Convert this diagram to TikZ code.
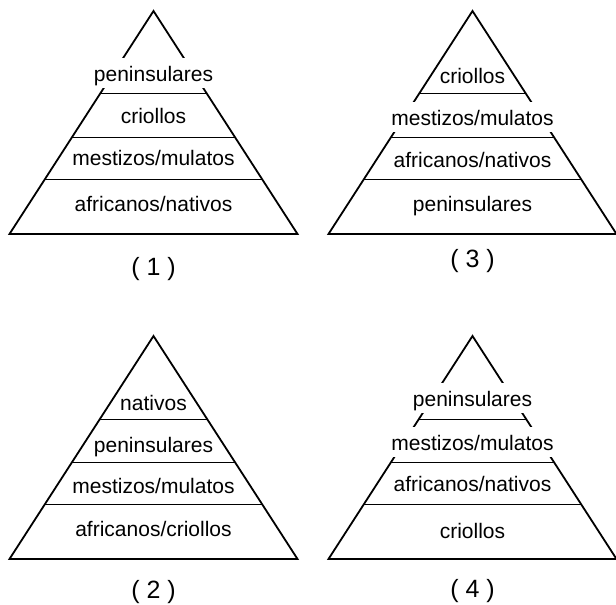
\documentclass[tikz,border=0pt]{standalone}
\usepackage{fontspec}
\setmainfont{Liberation Sans}
\usetikzlibrary{calc,positioning}

\begin{document}
\begin{tikzpicture}[x=1pt,y=-1pt,
	side/.style={line width=1.8pt},
	band/.style={line width=1pt},
	tier/.style={font=\fontsize{21}{21}\selectfont,anchor=base,inner sep=0pt},
	tiercut/.style={tier,fill=white,text height=23pt,text depth=7pt,inner xsep=1pt},
	num/.style={font=\fontsize{25}{25}\selectfont,anchor=base}]
	\useasboundingbox (0,0) rectangle (616,605);

	% outlines and tier lines
	\foreach \n/\x/\y in {1/153.5/11, 3/472.5/11, 2/153.5/336, 4/472.5/336} {
		\coordinate (A\n) at (\x,\y);
		\coordinate (L\n) at (\x-144,\y+223);
		\coordinate (R\n) at (\x+144,\y+223);
		\draw[side] (L\n) -- (A\n) -- (R\n) -- cycle;
		\foreach \h in {83,126,168}
			\draw[band] ($(A\n)!\h/223!(L\n)$) -- ($(A\n)!\h/223!(R\n)$);
	}

	% (1)
	\node[tiercut] (pen1) at ($(A1)+(0,70)$) {peninsulares};
	\node[tier] (cri1) at ($(A1)+(0,112)$) {criollos};
	\node[tier] (mes1) at ($(A1)+(0,154)$) {mestizos/mulatos};
	\node[tier] (afr1) at ($(A1)+(0,200)$) {africanos/nativos};
	\node[num] (num1) at ($(A1)+(0,264)$) {( 1 )};

	% (3)
	\node[tier] (cri3) at ($(A3)+(0,72)$) {criollos};
	\node[tiercut] (mes3) at ($(A3)+(0,114)$) {mestizos/mulatos};
	\node[tier] (afr3) at ($(A3)+(0,156)$) {africanos/nativos};
	\node[tier] (pen3) at ($(A3)+(0,200)$) {peninsulares};
	\node[num] (num3) at ($(A3)+(0,256)$) {( 3 )};

	% (2)
	\node[tier] (nat2) at ($(A2)+(0,74)$) {nativos};
	\node[tier] (pen2) at ($(A2)+(0,116)$) {peninsulares};
	\node[tier] (mes2) at ($(A2)+(0,157)$) {mestizos/mulatos};
	\node[tier] (afr2) at ($(A2)+(0,200)$) {africanos/criollos};
	\node[num] (num2) at ($(A2)+(0,262)$) {( 2 )};

	% (4)
	\node[tiercut] (pen4) at ($(A4)+(0,70)$) {peninsulares};
	\node[tiercut] (mes4) at ($(A4)+(0,114)$) {mestizos/mulatos};
	\node[tier] (afr4) at ($(A4)+(0,155)$) {africanos/nativos};
	\node[tier] (cri4) at ($(A4)+(0,202)$) {criollos};
	\node[num] (num4) at ($(A4)+(0,261)$) {( 4 )};
\end{tikzpicture}
\end{document}
